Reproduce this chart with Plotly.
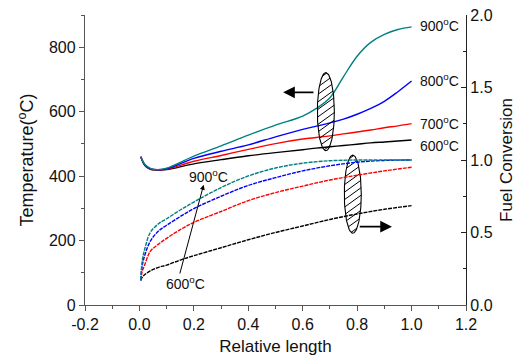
import numpy as np
import plotly.graph_objects as go

# ---- data ----
temp_x = [0.005, 0.02, 0.04, 0.065, 0.1, 0.2, 0.3, 0.4, 0.5, 0.6, 0.65, 0.7, 0.75, 0.8, 0.85, 0.9, 0.95, 1.0]
temp_900 = [460, 436, 424, 420, 425, 462, 494, 527, 558, 586, 610, 643, 709, 772, 815, 840, 855, 863]
temp_800 = [460, 435, 423, 420, 423, 455, 477, 497, 522, 545, 555, 565, 577, 592, 610, 632, 662, 695]
temp_700 = [460, 434, 422, 420, 421, 446, 464, 483, 501, 515, 520, 525, 531, 537, 543, 550, 556, 563]
temp_600 = [460, 433, 421, 419, 420, 438, 451, 463, 473, 482, 487, 491, 495, 499, 503, 506, 509, 512]

conv_x = [0.005, 0.01, 0.02, 0.04, 0.07, 0.1, 0.15, 0.2, 0.3, 0.4, 0.5, 0.6, 0.7, 0.8, 0.9, 1.0]
conv_900 = [0.17, 0.30, 0.39, 0.50, 0.56, 0.595, 0.655, 0.71, 0.81, 0.89, 0.945, 0.978, 0.995, 1.0, 1.0, 1.0]
conv_800 = [0.17, 0.27, 0.345, 0.44, 0.51, 0.55, 0.61, 0.665, 0.75, 0.825, 0.878, 0.925, 0.96, 0.985, 0.997, 1.0]
conv_700 = [0.17, 0.23, 0.28, 0.37, 0.42, 0.46, 0.52, 0.57, 0.645, 0.72, 0.775, 0.82, 0.862, 0.895, 0.925, 0.95]
conv_600 = [0.17, 0.19, 0.21, 0.235, 0.26, 0.275, 0.31, 0.34, 0.395, 0.45, 0.50, 0.545, 0.59, 0.628, 0.66, 0.685]

x_tick_vals = [-0.2, 0.0, 0.2, 0.4, 0.6, 0.8, 1.0, 1.2]
x_tick_text = ["-0.2", "0.0", "0.2", "0.4", "0.6", "0.8", "1.0", "1.2"]

series_labels = ["900<sup>o</sup>C", "800<sup>o</sup>C", "700<sup>o</sup>C", "600<sup>o</sup>C"]
colors = ["#008080", "#0000FF", "#FF0000", "#000000"]

FONT = "Liberation Sans"

fig = go.Figure()

temps = [temp_900, temp_800, temp_700, temp_600]
convs = [conv_900, conv_800, conv_700, conv_600]

# draw 600 first, 900 last (on top)
for i in [3, 2, 1, 0]:
    fig.add_trace(go.Scatter(x=temp_x, y=temps[i], mode="lines", line=dict(color=colors[i], width=1.4, shape="spline"),
                             yaxis="y", showlegend=False, hoverinfo="skip"))
for i in [3, 2, 1, 0]:
    fig.add_trace(go.Scatter(x=conv_x, y=convs[i], mode="lines", line=dict(color=colors[i], width=1.4, shape="spline", dash="4px,1px"),
                             yaxis="y2", showlegend=False, hoverinfo="skip"))

# hatched ellipses (annotation markers): centre (x, T), radii in pixels
ellipses = [(0.685, 600), (0.784, 344)]
A_PX, C_PX = 8.5, 39.0          # semi-axes, px
PX_X = 381.0 / 1.4              # px per x unit
PX_T = 290.0 / 900.0            # px per temperature unit
HATCH_K = 0.72                  # hatch slope in pixel space
HATCH_STEP = 7.5                # vertical spacing of hatch lines, px
th = np.linspace(0, 2 * np.pi, 120)
for cx, cy in ellipses:
    # hatch lines clipped to the ellipse
    hx, hy = [], []
    for b in np.arange(-C_PX + 2, C_PX, HATCH_STEP):
        qa = 1 / A_PX**2 + HATCH_K**2 / C_PX**2
        qb = 2 * HATCH_K * b / C_PX**2
        qc = b**2 / C_PX**2 - 1
        disc = qb**2 - 4 * qa * qc
        if disc <= 0:
            continue
        for X in [(-qb - np.sqrt(disc)) / (2 * qa), (-qb + np.sqrt(disc)) / (2 * qa)]:
            hx.append(cx + X / PX_X)
            hy.append(cy + (HATCH_K * X + b) / PX_T)
        hx.append(None)
        hy.append(None)
    fig.add_trace(go.Scatter(x=hx, y=hy, mode="lines", line=dict(color="black", width=1),
                             yaxis="y", showlegend=False, hoverinfo="skip"))
    fig.add_trace(go.Scatter(x=cx + A_PX / PX_X * np.cos(th), y=cy + C_PX / PX_T * np.sin(th), mode="lines",
                             line=dict(color="black", width=1.1), yaxis="y", showlegend=False, hoverinfo="skip"))

annotations = []
# right-hand labels
label_y = [869, 698, 565, 497]
for lab, yy in zip(series_labels, label_y):
    annotations.append(dict(x=1.025, y=yy, xref="x", yref="y", text=lab, showarrow=False, xanchor="left", yanchor="middle",
                            font=dict(family=FONT, size=14, color="#111")))
# arrow 600 -> 900
annotations.append(dict(x=0.236, y=373, ax=0.147, ay=93, xref="x", yref="y", axref="x", ayref="y", text="", showarrow=True,
                        arrowhead=2, arrowsize=1, arrowwidth=1, arrowcolor="black"))
annotations.append(dict(x=0.252, y=400, xref="x", yref="y", text=series_labels[0], showarrow=False,
                        font=dict(family=FONT, size=14, color="#111")))
annotations.append(dict(x=0.168, y=68, xref="x", yref="y", text=series_labels[3], showarrow=False,
                        font=dict(family=FONT, size=14, color="#111")))
# axis-pointing arrows
annotations.append(dict(x=0.528, y=660, ax=0.645, ay=660, xref="x", yref="y", axref="x", ayref="y", text="", showarrow=True,
                        arrowhead=2, arrowsize=1.3, arrowwidth=1.8, arrowcolor="black"))
annotations.append(dict(x=0.928, y=243, ax=0.804, ay=243, xref="x", yref="y", axref="x", ayref="y", text="", showarrow=True,
                        arrowhead=2, arrowsize=1.3, arrowwidth=1.8, arrowcolor="black"))

# page body has an 8px default margin: size the figure to fit the 522x360 window
fig.update_layout(
    width=514, height=352,
    margin=dict(l=77, r=56, t=7, b=55, autoexpand=False),
    paper_bgcolor="white", plot_bgcolor="white",
    font=dict(family=FONT, size=16, color="#111"),
    annotations=annotations,
    xaxis=dict(range=[-0.2, 1.2], tickvals=x_tick_vals, ticktext=x_tick_text, showline=True, linecolor="#555", linewidth=1.3,
               ticks="outside", ticklen=5, tickcolor="#555", showgrid=False, zeroline=False, automargin=False,
               ticklabeloverflow="allow",
               minor=dict(dtick=0.1, tick0=0, ticks="outside", ticklen=3, tickcolor="#555"),
               title=dict(text="Relative length", font=dict(family=FONT, size=17), standoff=7),
               tickfont=dict(family=FONT, size=16)),
    yaxis=dict(range=[0, 900], dtick=200, showline=True, linecolor="#555", linewidth=1.3,
               ticks="outside", ticklen=5, tickcolor="#555", showgrid=False, zeroline=False, automargin=False,
               ticklabeloverflow="allow",
               minor=dict(dtick=100, ticks="outside", ticklen=3, tickcolor="#555"),
               title=dict(text="Temperature(<sup>o</sup>C)", font=dict(family=FONT, size=18), standoff=10),
               tickfont=dict(family=FONT, size=16)),
    yaxis2=dict(range=[0, 2.0], dtick=0.5, tickformat=".1f", overlaying="y", side="right", showline=True,
                linecolor="#222", linewidth=1.2, ticks="inside", ticklen=5, tickcolor="#222", showgrid=False, zeroline=False,
                automargin=False, ticklabeloverflow="allow",
                minor=dict(dtick=0.25, ticks="inside", ticklen=3, tickcolor="#222"),
                title=dict(text="Fuel Conversion", font=dict(family=FONT, size=17), standoff=8),
                tickfont=dict(family=FONT, size=16)),
)

fig.write_html("out.html")
